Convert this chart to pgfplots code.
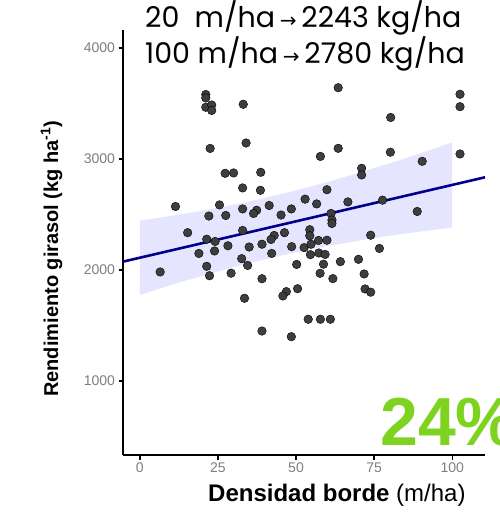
\documentclass[border=0pt]{standalone}
\usepackage{pgfplots}
\pgfplotsset{compat=1.18}
\usepackage{fontspec}
\setmainfont{Liberation Sans}
\newfontfamily\headfont{Poppins}
\newfontfamily\arrowfont{DejaVu Sans}
\definecolor{ptcol}{RGB}{62,62,62}
\definecolor{navyline}{RGB}{0,0,139}
\definecolor{bandcol}{RGB}{0,0,255}
\definecolor{greentxt}{RGB}{126,211,33}
\definecolor{tickgray}{RGB}{125,125,132}
\pgfplotstableread{
x y
21.1 3581
21.1 3550
21.1 3466
23.0 3486
23.0 3437
33.1 3493
63.5 3642
80.3 3374
102.5 3583
102.5 3471
22.5 3095
34.0 3144
63.5 3096
57.8 3023
80.2 3061
90.4 2979
102.5 3045
27.3 2871
30.0 2874
32.9 2739
38.7 2880
38.6 2718
59.9 2723
71.0 2916
71.0 2856
52.9 2638
56.6 2595
66.6 2613
77.7 2629
88.8 2527
11.4 2572
25.5 2586
32.9 2550
22.1 2486
27.5 2491
41.4 2581
48.5 2550
45.2 2495
37.4 2538
36.4 2509
61.2 2509
61.5 2450
61.5 2419
15.3 2336
21.4 2277
24.1 2257
23.9 2171
28.2 2218
18.9 2149
32.9 2356
35.0 2207
32.6 2102
34.5 2041
6.5 1982
21.4 2033
22.3 1948
29.2 1971
33.5 1745
54.4 2363
54.4 2308
46.3 2336
43.0 2311
42.0 2275
39.1 2232
48.6 2210
52.6 2201
54.8 2232
57.2 2266
59.9 2268
42.2 2149
54.6 2138
57.3 2153
59.3 2140
50.2 2050
58.8 2052
57.7 1970
64.2 2075
70.0 2096
39.1 1921
61.8 1922
50.5 1831
46.9 1805
45.8 1766
53.9 1556
57.8 1556
61.0 1556
39.1 1450
48.5 1399
73.9 2313
76.7 2194
71.8 1964
72.1 1829
73.9 1800
}\pts
\begin{document}
\begin{tikzpicture}[x=1pt,y=1pt]
\useasboundingbox (0,0) rectangle (500,515);
\begin{axis}[
  at={(123pt,60pt)}, anchor=south west,
  width=362pt, height=425pt, scale only axis,
  xmin=-5.4, xmax=110.5, ymin=333, ymax=4162,
  axis lines=left,
  axis line style={-, line width=1.6pt, black},
  tick align=outside, major tick length=4.5pt,
  xtick={0,25,50,75,100}, ytick={1000,2000,3000,4000},
  tick style={black, line width=1.3pt},
  ticklabel style={font=\fontsize{14}{14}\selectfont, text=tickgray},
  /pgf/number format/assume math mode=true,
  /pgf/number format/1000 sep={},
]
\addplot[only marks, mark=*, mark size=4.3pt, mark options={fill=ptcol, draw=none}] table[x=x,y=y] {\pts};
\addplot[fill=bandcol, fill opacity=0.1, draw=none] coordinates {
 (0,2445) (10,2487) (20,2534) (30,2588) (40,2648) (50,2716) (60,2792) (70,2874) (80,2961) (90,3053) (100,3149)
 (100,2383) (90,2347) (80,2309) (70,2264) (60,2216) (50,2160) (40,2096) (30,2026) (20,1948) (10,1865) (0,1775)
} -- cycle;
\addplot[navyline, line width=2.6pt] coordinates {(-5.4,2075) (110.5,2835)};
\end{axis}
\node[rotate=90, anchor=base west, inner sep=0pt, font=\bfseries\fontsize{20}{20}\selectfont] at (58,118) {Rendimiento girasol (kg ha\textsuperscript{-1})};
\node[anchor=base west, inner sep=0pt, font=\fontsize{24}{24}\selectfont] at (208,13) {\textbf{Densidad borde} (m/ha)};
\node[anchor=base west, inner sep=0pt, font=\headfont\fontsize{28.5}{28.5}\selectfont] at (145,487) {20\ \ m/ha\,{\arrowfont\fontsize{20}{20}\selectfont →}\,2243 kg/ha};
\node[anchor=base west, inner sep=0pt, font=\headfont\fontsize{28.5}{28.5}\selectfont] at (145,451) {100 m/ha\,{\arrowfont\fontsize{20}{20}\selectfont →}\,2780 kg/ha};
\node[anchor=base west, inner sep=0pt, text=greentxt, font=\bfseries\fontsize{68}{68}\selectfont] at (380,70) {24\%};
\end{tikzpicture}
\end{document}
